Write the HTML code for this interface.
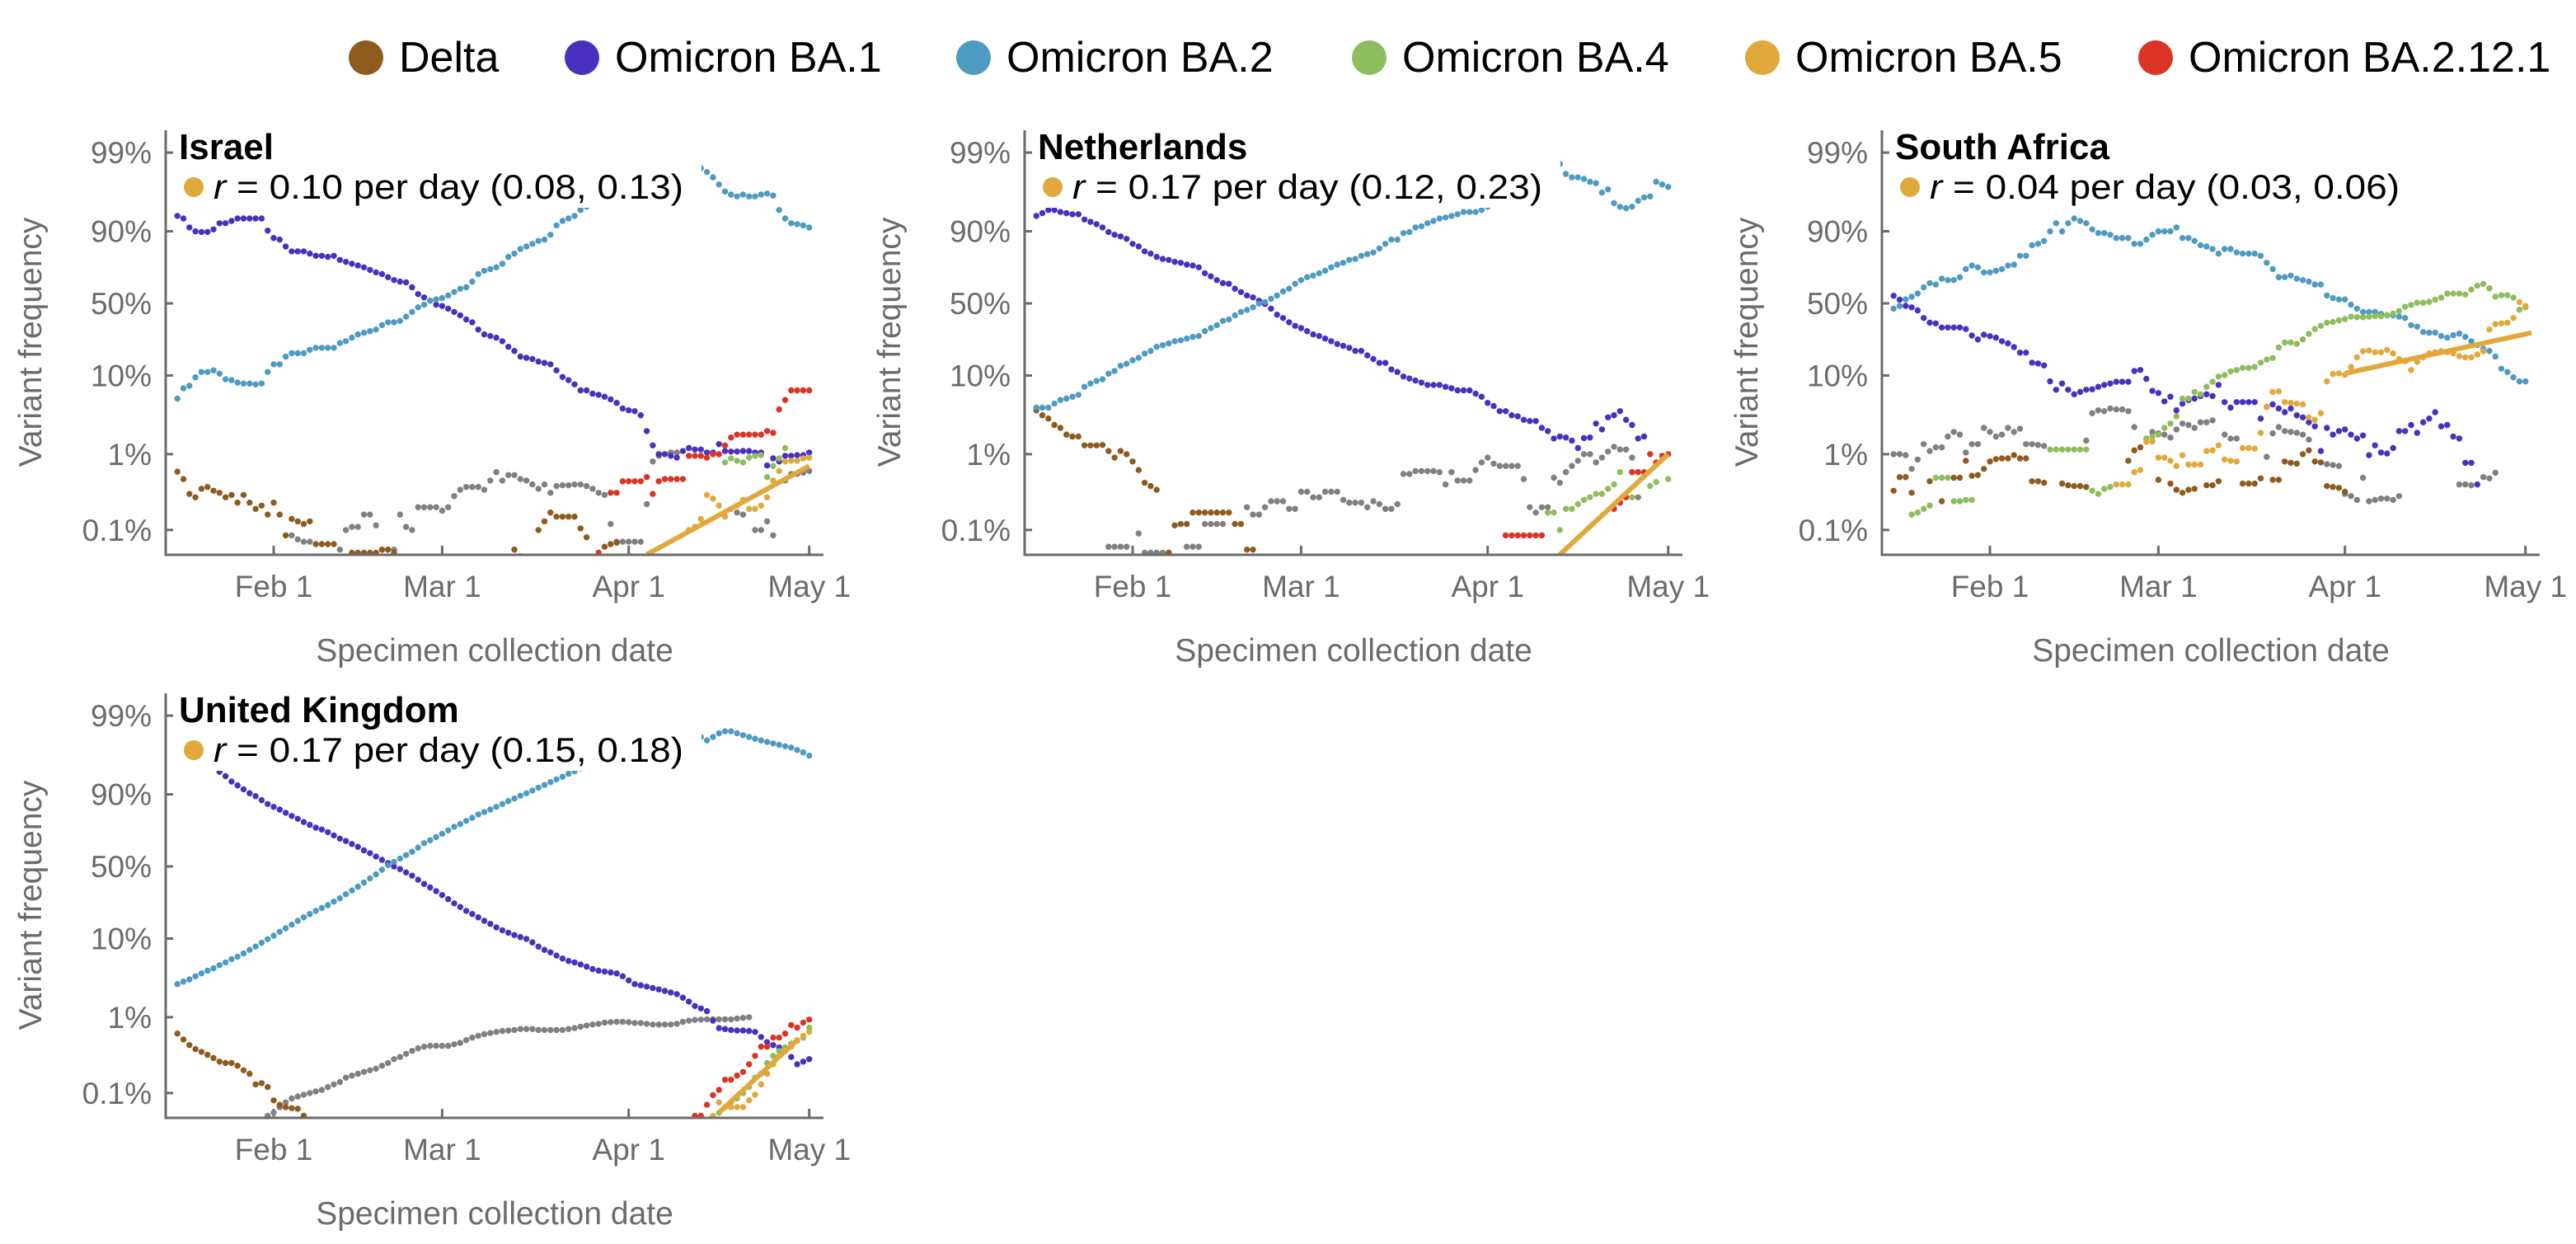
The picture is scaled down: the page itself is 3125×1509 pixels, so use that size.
<!DOCTYPE html>
<html><head><meta charset="utf-8"><style>
html,body{margin:0;padding:0;background:#fff;}
svg{display:block;font-family:"Liberation Sans",Arial,sans-serif;}
</style></head>
<body>
<svg id="chart" width="3125" height="1509" viewBox="0 0 3125 1509" xmlns="http://www.w3.org/2000/svg">
<rect x="0" y="0" width="3125" height="1509" fill="#fff"/>
<g id="legend"></g>
</svg>
<script>
const _ = null;
// ---- categories / ticks ----
const panelNames = ['Israel','Netherlands','South Africa','United Kingdom'];
const rateValues = ['0.10','0.17','0.04','0.17'];
const rateCIs = ['(0.08, 0.13)','(0.12, 0.23)','(0.03, 0.06)','(0.15, 0.18)'];
const yTickVals = [99,90,50,10,1,0.1];
const yTickLabels = ['99%','90%','50%','10%','1%','0.1%'];
const xTickDays = [31,59,90,120];
const xTickLabels = ['Feb 1','Mar 1','Apr 1','May 1'];
const legendLabels = ['Delta','Omicron BA.1','Omicron BA.2','Omicron BA.4','Omicron BA.5','Omicron BA.2.12.1'];
// ---- fitted BA.5 growth lines ----
const fitRate = [0.10,0.17,0.04,0.17];
const fitStartDay = [93,102,90,105];
const fitEndDay = [120,120,121,118];
const fitEndPct = [0.7,1.0,29,0.5];

// ---- Israel (day index: Jan 1 = 0) ----
const isDeltaStart = 15;
const isDelta = [.59,.47,.3,.27,.35,.37,.33,.31,.27,.29,.23,.29,.23,.19,.21,.16,.23,.16,.085,.14,.13,.12,.13,.065,.065,.065,.065,_,_,.05,.05,.05,.05,.05,.055,.055,.05,_,_,_,_,_,_,_,_,_,_,_,_,_,_,_,_,_,_,_,.055,.045,_,_,.1,.13,.17,.15,.15,.15,.15,.105,.08,_,_,.06,.065,.068];
const isBA1Start = 15;
const isBA1 = [93.5,93,91,90,89.8,89.8,90.5,92,92,92.5,93,93,93,93,93,90.2,88,87.5,85,83,83,83,82,81,81,80.5,81,79,78,77,76,75,73.5,72,71,69,67,66,65.5,62,57,54.5,52,49,48,46,43.5,41,38,36,31,28,27,26,24,21,19,16.5,16,15.5,14.5,14,13.5,11.5,9.6,8.8,7.8,6.6,6.6,6,5.8,5.5,5.1,4.6,3.9,3.7,3.6,3.2,2,1.3,1.0,1.0,0.95,0.9,1.1,1.2,1.15,1.15,1.05,1.05,1.35,1.1,1.08,1.08,1.1,1.1,1.05,1.05,0.71,0.88,0.8,0.95,0.95,0.97,0.97,1.05];
const isBA2Start = 15;
const isBA2 = [5.2,7,7.5,9.5,11,11,11.5,10.5,9,8.8,8.2,8,8,7.8,8,11,13.5,13.5,16.5,18,18,18,19.5,20.5,20.5,20.5,20.5,23,24,26,28,29,30,31,34,36,36,37,40,43.5,47,49,52,53,54,56,58.5,61,62,66,71,73,74,75,77,80.5,82,84,85,86,87,87.5,89,91.5,92.5,93,93.5,94.5,95,95.5,96,96.5,97,97,97.5,97.5,98,98,98,98.2,98.3,98.4,98.5,98.5,98.6,98.6,98.5,98.4,98.2,97.9,97.4,96.8,96.5,96.3,96.5,96.3,96.3,96.5,96.6,96.4,94.5,93,92,91.8,91.5,91];
const isOtherStart = 34;
const isOther = [.085,.075,.07,.07,_,_,_,_,.055,.1,.11,.11,.16,.16,.115,.055,.055,.055,.16,.11,.1,.2,.2,.2,.2,.18,.2,.28,.34,.37,.37,.37,.34,.45,.58,.45,.53,.53,.47,.45,.4,.35,.4,.31,.38,.39,.39,.4,.4,.38,.35,.31,.29,.12,.07,.07,.07,.07,.07,.22,.8,.95,1.0,1.05,1.05,_,_,_,_,_,_,_,_,_,.17,.16,_,.1,.1,.13,.085,_,.45,.55,.55,.57,.6];
const isBA4Start = 106;
const isBA4 = [.78,.88,.82,.78,.9,.95,.97,.5,.7,.88,1.2];
const isBA5Start = 100;
const isBA5 = [.1,.11,.14,.29,.26,.21,.15,.19,.21,.25,.19,.19,.21,.27,.45,.6,.8,.82,.82,.88,.9];
const isBA2121Start = 85;
const isBA2121 = [.05,_,.31,.31,.44,.44,.44,.44,.5,.3,.44,.47,.47,.47,.47,.95,.95,.95,.9,1.0,1.0,1.3,1.65,1.8,1.8,1.8,1.8,1.8,2.0,1.9,3.8,5,6.6,6.6,6.6,6.6];

// ---- Netherlands ----
const nlDeltaStart = 15;
const nlDelta = [3.7,3.2,2.9,2.4,2.2,1.8,1.7,1.7,1.3,1.3,1.3,1.32,1.1,.9,1.1,1.0,.8,.62,.42,.38,.34,_,.05,.115,.12,.12,.17,.17,.17,.17,.17,.17,.17,.12,.12,.055,.055];
const nlBA1Start = 15;
const nlBA1 = [93.5,94,94.5,94.5,94.2,94,93.8,93.8,92.8,92.3,91.8,91,89.8,89,88.5,87.7,86,85,83,82,80.5,79.5,79,78,77.5,76.5,76,75,71.5,69.5,67,65,64.5,61,58.5,56,54.5,52,49.5,46,41.5,39,36,33.5,32,30,28,27,25.5,24,22.5,21.5,20.5,19,19,17,15.5,14,14,11.8,11,9.7,9.2,8.7,8.2,7.7,7.7,7.7,7.3,7,6.6,6.6,6.6,6,5.5,4.6,4.2,3.6,3.6,3.2,3.1,2.8,2.7,2.7,2.2,2.0,1.6,1.7,1.65,1.5,1.2,1.62,1.65,2.5,2.1,3.0,3.2,3.6,2.8,2.4,1.6,1.7];
const nlBA2Start = 15;
const nlBA2 = [4.0,4.0,4.0,4.5,5,5.2,5.5,5.8,7.3,8,8.6,9,10.5,11.3,13,13.7,15,16,17.8,19,21,21.8,22.8,24,24.5,25.5,26.5,27,30,32,34,37,38,41,43.5,45,47,49.8,51,53.5,56,59,61,64.5,67,69,70,71.5,73,75,76.5,77.5,79,79.5,81,81.8,82.5,84.2,86,87.5,87.5,89.5,89.8,91,91.3,92,92.5,93,93.2,93.5,93.8,94.2,94.2,94.2,94.5,95,95.5,96,96.5,97,97.5,97.8,98,98.2,98.4,98.5,98.6,98.6,98.1,97.9,97.9,97.8,97.6,97.5,96.7,97,95.5,95,94.8,95,95.8,96.2,96.3,97.6,97.4,97.2];
const nlOtherStart = 27;
const nlOther = [.06,.06,.06,.06,_,.09,.05,.05,.05,.05,.05,_,_,.06,.06,.06,.12,.12,.12,.12,_,_,_,.2,.16,.16,.2,.24,.24,.24,.19,.19,.32,.32,.27,.27,.32,.32,.32,.25,.23,.23,.23,.2,.24,.22,.19,.19,.22,.55,.55,.6,.6,.6,.6,.58,.4,.58,.45,.45,.45,.62,.78,.9,.75,.7,.7,.7,.7,.47,.2,.17,.2,.2,.49,.42,.58,.7,.82,1.0,1.0,.78,.9,1.08,1.25,1.15,1.15,.9,.27];
const nlBA4Start = 99;
const nlBA4 = [.085,.17,.17,.1,.19,.19,.22,.25,.27,.3,.3,.35,.4,.58,_,.27,_,_,.38,.43,_,.47];
const nlBA2121Start = 93;
const nlBA2121 = [.085,.085,.085,.085,.085,.085,.085,_,_,_,_,_,_,_,_,_,_,_,.19,.23,.27,.58,.58,.58,1.0,.78,.95,1.0];

// ---- South Africa ----
const saDeltaStart = 15;
const saDelta = [.33,.5,.5,.31,_,_,.44,_,.24,_,.49,.49,.82,.52,.53,.64,.8,.86,.88,.88,.97,.88,.88,.44,.44,.42,_,_,.41,.39,.38,.38,.37,_,_,_,_,_,_,.82,1.12,1.23,_,_,.46,_,.41,.34,.31,.34,.35,_,.39,.39,.44,_,_,_,.41,.41,.41,.48,_,.46,.46,.8,.77,.75,1.0,1.12,.8,.78,.38,.37,.36,.32];
const saBA1Start = 15;
const saBA1 = [55.8,52.8,48.1,47,44.7,39,35.7,35.2,32.4,32.4,32.4,32.4,31.4,27.3,25,27.8,26.9,26,24,22.8,20.9,18.2,18.2,14.1,13.8,13.1,8.5,6.7,8,6.7,5.9,6.3,6.7,6.8,7.3,7.7,8,8.4,8.4,8.4,11.3,11.6,9.1,6.5,6.1,4.8,5.5,3.7,4.5,5,5.2,5.6,5.9,5.6,7.7,4.7,4,4.7,4.7,4.7,4.7,2.9,4.1,4.4,3.9,3.5,3.9,3.2,3,2.6,2.3,1.1,2.2,1.8,2.0,2.1,1.8,1.6,1.75,0.97,1.3,1.05,1.02,1.2,2.0,2.0,2.4,1.9,2.6,2.9,3.5,2.3,2.4,1.7,1.6,.77,.77,.4];
const saBA2Start = 15;
const saBA2 = [46,48,53,55,57.5,62,65,64,68,67,67,69,74,76,75,72,72,73,74,76,76.5,81,81,85.5,86,87,90,92,90,92,93,92.5,92,90.5,89.5,89.5,89,88,88,88,86,86,87.5,89,90,90,90,91,88,88,87,85.5,85,84,82,84,84,82.5,82,82,82,81,77.5,74,69,69,70,68,67,66,64,64,56,54,53,53,49,46,43.5,43.5,43.5,42,41,41,40,39,34,33,29.5,29,29,27,26,27.5,28.5,26.5,24,22,20,19,16.5,12,11,9.5,8.5,8.5];
const saOtherStart = 15;
const saOther = [1.0,1.0,.97,.64,.85,1.35,1.1,1.23,1.23,1.7,1.95,1.8,1.05,1.35,1.35,2.2,1.95,1.7,1.8,2.2,1.95,2.15,1.35,1.35,1.32,1.28,_,_,_,_,_,_,1.5,3.4,3.7,3.6,3.9,3.8,3.8,3.6,2.25,_,_,1.95,1.87,1.8,1.65,2.1,2.5,2.4,2.2,2.6,2.6,2.75,_,1.8,1.6,1.6,_,_,_,_,.92,1.87,2.25,2.0,1.95,1.9,1.8,1.55,_,_,.74,.72,.7,.3,.28,.25,.49,.24,.25,.26,.26,.25,.28,_,_,_,_,_,_,_,_,_,.4,.4,.39,_,.5,.48,.57];
const saBA4Start = 18;
const saBA4 = [.16,.17,.19,.21,.49,.49,.49,.24,.24,.25,.25,_,_,_,_,_,_,_,_,_,_,_,_,1.15,1.15,1.15,1.15,1.15,1.15,1.15,.33,.3,.35,.37,_,_,_,_,_,1.6,1.7,1.8,2.2,2.5,3.1,5.2,5.2,6.3,5.9,7.3,8.4,9.7,10.1,11.2,11.6,12.3,12.3,12.6,14.1,15.3,15.9,20.7,23.3,23.3,22.6,25,28.3,31.4,33.5,35.7,36.2,37.4,38.3,40,39.6,39.6,40,40.4,40.4,41.2,42.3,44.2,47.4,48.8,50.5,50.5,51.2,52.8,54.4,57.4,57.4,57.4,56.7,60.4,63.2,64.4,61.3,55.1,56.2,56.2,54.4,45.1,47];
const saBA5Start = 52;
const saBA5 = [.4,.4,.4,.58,.62,1.45,1.47,.9,.9,.82,.7,.97,.73,.73,.73,1.1,1.12,1.3,.85,.82,.8,1.2,1.2,1.18,1.9,4.1,6.3,6.4,4.7,4.6,4.5,4.4,3,2.8,3.4,8.5,10.4,10.6,10.2,12.6,16.2,18.9,19.2,18.4,18.4,19.5,17.9,15.5,14.6,11.6,14.4,16.2,17.9,18.4,18.9,18.4,17.9,16.7,16.2,16.2,17.4,18.9,31,34.6,35.2,35.7,39,51,48];

// ---- United Kingdom ----
const ukDeltaStart = 15;
const ukDelta = [.61,.51,.43,.38,.35,.32,.29,.26,.25,.25,.23,.2,.18,.13,.135,.12,.08,.07,.065,.063,.062,.05];
const ukBA1Start = 15;
const ukBA1 = [97.5,97.3,97,96.7,96.3,95.8,95.3,94.7,94,93,92.2,91.3,90.3,89.5,88.3,87,86,85,83.7,82.3,81,79.5,78,76.5,75.5,74,72,70,68.5,66.5,64.5,62,60,57.5,55,52.5,50,48,45.5,43,40,37,34.5,32,29.5,27,24.5,22.5,20.5,19,17.5,16,14.8,13.5,12.5,11.7,11,10.4,9.9,9,8,7.3,6.8,6.2,5.7,5.3,5.1,4.8,4.5,4.2,4.0,3.9,3.8,3.7,3.4,3.0,2.7,2.6,2.5,2.4,2.3,2.2,2.1,2.0,1.8,1.6,1.4,1.3,1.2,0.9,0.72,0.7,0.68,0.67,0.67,0.66,0.64,0.55,0.47,0.43,0.4,0.36,0.3,0.24,0.26,0.28];
const ukBA2Start = 15;
const ukBA2 = [2.7,2.9,3.1,3.4,3.7,4.0,4.3,4.7,5.1,5.6,6.0,6.6,7.3,8.0,8.9,9.8,10.8,12,13.2,14.5,16,17.5,19,20.5,22,23.5,25.5,27.5,30,32.5,35,38,41,44,47.5,51,53.5,56,58.5,61,64,67,69,71,73,75,77,78.5,80,81.5,83,84,85,86,87,88,88.8,89.6,90.3,91,91.7,92.3,92.9,93.4,93.9,94.4,94.8,95.2,95.6,96,96.3,96.6,96.9,97.1,97.3,97.5,97.7,97.8,97.9,98,98.1,98.1,98.2,98.2,98.2,98.2,98.2,98.1,97.9,98.1,98.3,98.4,98.4,98.3,98.2,98.1,98.0,97.9,97.8,97.7,97.6,97.5,97.4,97.2,97.0,96.7];
const ukOtherStart = 30;
const ukOther = [.05,.055,.065,.075,.085,.09,.095,.1,.105,.11,.12,.13,.14,.16,.17,.18,.19,.2,.21,.23,.25,.28,.3,.33,.36,.39,.41,.42,.42,.42,.42,.44,.46,.5,.54,.57,.6,.62,.64,.66,.67,.68,.7,.7,.7,.68,.68,.68,.68,.68,.7,.72,.75,.78,.8,.82,.85,.86,.87,.87,.86,.84,.84,.82,.8,.8,.8,.8,.82,.87,.9,.92,.93,.94,.94,.94,.94,.94,.96,.98,1.0];
const ukBA4Start = 105;
const ukBA4 = [.055,.065,.075,.085,.1,.12,.16,.18,.25,.31,.36,.4,.45,.5,.54,.73];
const ukBA5Start = 104;
const ukBA5 = [.05,.075,.065,.065,.065,.065,.08,.095,.13,.18,.24,.31,.36,.41,.49,.57,.64];
const ukBA2121Start = 101;
const ukBA2121 = [.05,.05,.07,.094,.11,.15,.15,.17,.19,.24,.31,.41,.41,.54,.54,.61,.79,.73,.85,.93];

const COLORS = {other:'#808080', delta:'#8E5B1F', ba1:'#4A30BE', ba2:'#4E9BC1', ba4:'#8DBD5E', ba5:'#E1A83B', ba2121:'#DB3325'};
const legendColors = [COLORS.delta, COLORS.ba1, COLORS.ba2, COLORS.ba4, COLORS.ba5, COLORS.ba2121];

const panelSeries = [
  [['other',isOtherStart,isOther],['delta',isDeltaStart,isDelta],['ba1',isBA1Start,isBA1],['ba2',isBA2Start,isBA2],['ba4',isBA4Start,isBA4],['ba5',isBA5Start,isBA5],['ba2121',isBA2121Start,isBA2121]],
  [['other',nlOtherStart,nlOther],['delta',nlDeltaStart,nlDelta],['ba1',nlBA1Start,nlBA1],['ba2',nlBA2Start,nlBA2],['ba4',nlBA4Start,nlBA4],['ba2121',nlBA2121Start,nlBA2121]],
  [['other',saOtherStart,saOther],['delta',saDeltaStart,saDelta],['ba1',saBA1Start,saBA1],['ba2',saBA2Start,saBA2],['ba4',saBA4Start,saBA4],['ba5',saBA5Start,saBA5]],
  [['other',ukOtherStart,ukOther],['delta',ukDeltaStart,ukDelta],['ba1',ukBA1Start,ukBA1],['ba2',ukBA2Start,ukBA2],['ba4',ukBA4Start,ukBA4],['ba5',ukBA5Start,ukBA5],['ba2121',ukBA2121Start,ukBA2121]]
];
const panelOffX = [0,1042,2082,0];
const panelOffY = [0,0,0,683];

const NS = 'http://www.w3.org/2000/svg';
const svg = document.getElementById('chart');
function mk(tag, attrs, parent){
  const el = document.createElementNS(NS, tag);
  for (const k in attrs) el.setAttribute(k, attrs[k]);
  parent.appendChild(el);
  return el;
}
// axis functions
const AX_L = 201, AX_R = 999, AX_T = 158, AX_B = 673;
function xScale(d){ return 332 + 7.3*(d-31); }
function yScale(p){ const q = p/100; return 368 - 39.8*Math.log(q/(1-q)); }

// legend
const legendG = document.getElementById('legend');
const legCx = [444,706,1181,1661,2138,2615];
legendLabels.forEach((lab,i)=>{
  const g = mk('g',{},legendG);
  
  
  const c = mk('circle',{cx:legCx[i],cy:70,r:21,fill:legendColors[i]},g);
  
  
  const t = mk('text',{x:legCx[i]+40,y:87,'font-size':52,fill:'#000'},g);
  
  
  t.textContent = lab;
});

panelNames.forEach((name,pi)=>{
  const g = mk('g',{transform:`translate(${panelOffX[pi]},${panelOffY[pi]})`},svg);
  
  
  const defs = mk('defs',{},g);
  const cp = mk('clipPath',{id:'clip'+pi},defs);
  mk('rect',{x:AX_L+2,y:AX_T-20,width:AX_R-AX_L+6,height:AX_B-AX_T+19},cp);

  // y ticks & labels
  yTickVals.forEach((v,i)=>{
    const y = yScale(v);
    const tk = mk('line',{x1:AX_L,x2:AX_L+9,y1:y,y2:y,stroke:'#6b6b6b','stroke-width':3},g);
    
    
    const tl = mk('text',{x:184,y:y+13,'font-size':37,fill:'#6b6b6b','text-anchor':'end'},g);
    
    
    tl.textContent = yTickLabels[i];
  });
  // x ticks & labels
  xTickDays.forEach((d,i)=>{
    const x = xScale(d);
    const tk = mk('line',{x1:x,x2:x,y1:AX_B,y2:AX_B-11,stroke:'#6b6b6b','stroke-width':3},g);
    
    
    const tl = mk('text',{x:x,y:724,'font-size':37,fill:'#6b6b6b','text-anchor':'middle'},g);
    
    
    tl.textContent = xTickLabels[i];
  });
  // axis titles
  const yt = mk('text',{x:0,y:0,'font-size':39,fill:'#6b6b6b','text-anchor':'middle',transform:'translate(50,415) rotate(-90)'},g);
  
  
  yt.textContent = 'Variant frequency';
  const xt = mk('text',{x:600,y:802,'font-size':39,fill:'#6b6b6b','text-anchor':'middle'},g);
  
  
  xt.textContent = 'Specimen collection date';

  // points
  const pg = mk('g',{'clip-path':`url(#clip${pi})`},g);
  
  
  panelSeries[pi].forEach(([key,start,vals])=>{
    const sg = mk('g',{fill:COLORS[key]},pg);
    
    
    vals.forEach((v,k)=>{
      if (v === null || v === undefined) return;
      const c = mk('circle',{cx:xScale(start+k).toFixed(1),cy:yScale(v).toFixed(1),r:3.7},sg);
      
      
    });
  });
  // fit line (logistic growth at rate r)
  const endL = Math.log((fitEndPct[pi]/100)/(1-fitEndPct[pi]/100));
  const L0 = endL - fitRate[pi]*(fitEndDay[pi]-fitStartDay[pi]);
  const y0 = 368 - 39.8*L0, y1 = 368 - 39.8*endL;
  const fl = mk('line',{x1:xScale(fitStartDay[pi]),y1:y0,x2:xScale(fitEndDay[pi]),y2:y1,stroke:COLORS.ba5,'stroke-width':6},pg);
  
  

  // label box
  const box = mk('rect',{x:211,y:150,width:640,height:102,fill:'#fff'},g);
  
  
  const title = mk('text',{x:217,y:193,'font-size':44,'font-weight':'bold',fill:'#000'},g);
  
  
  title.textContent = name;
  const dot = mk('circle',{cx:235,cy:227,r:12,fill:COLORS.ba5},g);
  
  
  const rt = mk('text',{x:259,y:241,'font-size':42,fill:'#000',textLength:570,lengthAdjust:'spacingAndGlyphs'},g);
  
  
  const it = mk('tspan',{'font-style':'italic'},rt);
  it.textContent = 'r';
  const rest = mk('tspan',{},rt);
  rest.textContent = ' = ' + rateValues[pi] + ' per day ' + rateCIs[pi];

  // axes lines
  const ya = mk('line',{x1:AX_L,x2:AX_L,y1:AX_T,y2:AX_B+1.5,stroke:'#6b6b6b','stroke-width':3},g);
  
  
  const xa = mk('line',{x1:AX_L-1.5,x2:AX_R,y1:AX_B,y2:AX_B,stroke:'#6b6b6b','stroke-width':3},g);
  
  
});
</script>
</body></html>
